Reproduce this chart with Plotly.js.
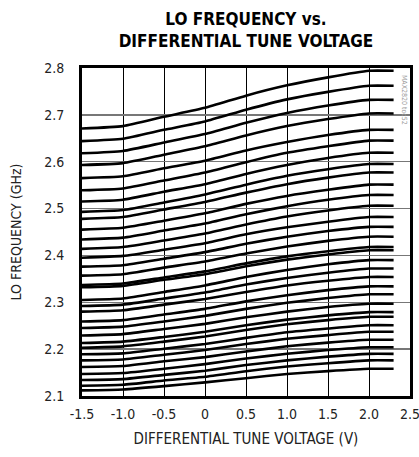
<!DOCTYPE html>
<html><head><meta charset="utf-8">
<script src="https://cdn.plot.ly/plotly-3.0.1.min.js"></script>
<style>html,body{margin:0;padding:0;background:#fff}#c{width:419px;height:457px}</style>
</head><body><div id="c"></div>
<script>
const tuneV = [-1.5, -1.0, -0.5, 0, 0.5, 1.0, 1.5, 2.0, 2.3];
const loFreq = [
[2.671,2.676,2.696,2.715,2.741,2.763,2.780,2.794,2.794],
[2.644,2.649,2.668,2.686,2.711,2.733,2.749,2.762,2.762],
[2.618,2.623,2.641,2.659,2.683,2.704,2.720,2.732,2.732],
[2.593,2.597,2.615,2.633,2.656,2.676,2.691,2.703,2.703],
[2.565,2.569,2.586,2.602,2.624,2.642,2.657,2.668,2.668],
[2.539,2.543,2.560,2.577,2.599,2.619,2.633,2.645,2.645],
[2.515,2.519,2.536,2.552,2.574,2.593,2.608,2.619,2.619],
[2.493,2.497,2.513,2.530,2.551,2.570,2.584,2.595,2.595],
[2.478,2.482,2.498,2.514,2.534,2.552,2.566,2.577,2.577],
[2.455,2.459,2.474,2.490,2.510,2.527,2.540,2.551,2.551],
[2.434,2.438,2.453,2.468,2.488,2.505,2.519,2.529,2.529],
[2.414,2.418,2.432,2.447,2.466,2.483,2.496,2.506,2.506],
[2.395,2.399,2.412,2.426,2.445,2.460,2.472,2.482,2.482],
[2.376,2.379,2.393,2.407,2.425,2.440,2.452,2.461,2.461],
[2.357,2.360,2.374,2.387,2.404,2.419,2.431,2.440,2.440],
[2.337,2.340,2.353,2.366,2.383,2.398,2.409,2.418,2.418],
[2.332,2.335,2.348,2.360,2.377,2.391,2.402,2.411,2.411],
[2.305,2.308,2.322,2.336,2.354,2.369,2.381,2.390,2.390],
[2.292,2.295,2.308,2.321,2.338,2.352,2.363,2.372,2.372],
[2.280,2.283,2.295,2.307,2.322,2.336,2.346,2.354,2.354],
[2.259,2.262,2.274,2.286,2.302,2.315,2.326,2.334,2.334],
[2.245,2.248,2.259,2.271,2.286,2.299,2.309,2.317,2.317],
[2.229,2.232,2.243,2.254,2.268,2.280,2.290,2.297,2.297],
[2.213,2.216,2.226,2.237,2.251,2.263,2.272,2.279,2.279],
[2.203,2.206,2.216,2.227,2.241,2.253,2.262,2.269,2.269],
[2.189,2.191,2.201,2.211,2.224,2.236,2.244,2.251,2.251],
[2.176,2.178,2.188,2.198,2.211,2.222,2.230,2.237,2.237],
[2.162,2.164,2.174,2.183,2.195,2.206,2.214,2.220,2.220],
[2.147,2.149,2.158,2.168,2.180,2.190,2.198,2.204,2.204],
[2.134,2.136,2.145,2.154,2.166,2.176,2.184,2.190,2.190],
[2.122,2.124,2.133,2.141,2.153,2.163,2.170,2.176,2.176],
[2.112,2.114,2.121,2.129,2.138,2.147,2.153,2.158,2.158]
];
const xTicks = [-1.5,-1.0,-0.5,0,0.5,1.0,1.5,2.0,2.5];
const xTickText = ["-1.5","-1.0","-0.5","0","0.5","1.0","1.5","2.0","2.5"];
const yTicks = [2.1,2.2,2.3,2.4,2.5,2.6,2.7,2.8];
const yTickText = ["2.1","2.2","2.3","2.4","2.5","2.6","2.7","2.8"];

const FONT = "'DejaVu Sans Condensed', 'Liberation Sans Narrow', sans-serif";
const traces = loFreq.map(ys => ({
  x: tuneV, y: ys, type: 'scatter', mode: 'lines',
  line: {color: '#000', width: 2.6, shape: 'spline', smoothing: 0.5},
  hoverinfo: 'skip', showlegend: false
}));
const layout = {
  width: 419, height: 457,
  margin: {l: 82, r: 9, t: 68, b: 61},
  paper_bgcolor: '#fff', plot_bgcolor: '#fff',
  font: {family: FONT, color: '#222', size: 14},
  title: {text: '<b>LO FREQUENCY vs.<br>DIFFERENTIAL TUNE VOLTAGE</b>',
          font: {family: FONT, size: 17, color: '#000'},
          xref: 'paper', x: 0.5, xanchor: 'center',
          yref: 'container', y: 0.946, yanchor: 'middle'},
  xaxis: {range: [-1.5, 2.5], tickvals: xTicks, ticktext: xTickText,
          showgrid: true, gridcolor: '#000', gridwidth: 1,
          showline: true, linecolor: '#000', linewidth: 3, mirror: true,
          ticks: '', zeroline: false, ticklabeloverflow: 'allow',
          tickfont: {size: 14, color: '#222'}, ticklabelstandoff: 3,
          title: {text: 'DIFFERENTIAL TUNE VOLTAGE (V)', font: {size: 15, color: '#222'}, standoff: 13}},
  yaxis: {range: [2.1, 2.8], tickvals: yTicks, ticktext: yTickText,
          showgrid: true, gridcolor: '#777', gridwidth: 1.5,
          showline: true, linecolor: '#000', linewidth: 3, mirror: true,
          ticks: '', zeroline: false, ticklabelstandoff: 12,
          tickfont: {size: 14, color: '#222'},
          title: {text: 'LO FREQUENCY (GHz)', font: {size: 14, color: '#222'}, standoff: 20}},
  annotations: [{text: 'MAX2820 toc52', xref: 'paper', yref: 'paper', x: 1.0, y: 0.985,
                 xanchor: 'right', yanchor: 'top', textangle: 90, showarrow: false,
                 font: {size: 7, color: '#999'}}]
};
Plotly.newPlot('c', traces, layout, {staticPlot: true, displayModeBar: false});
</script></body></html>
